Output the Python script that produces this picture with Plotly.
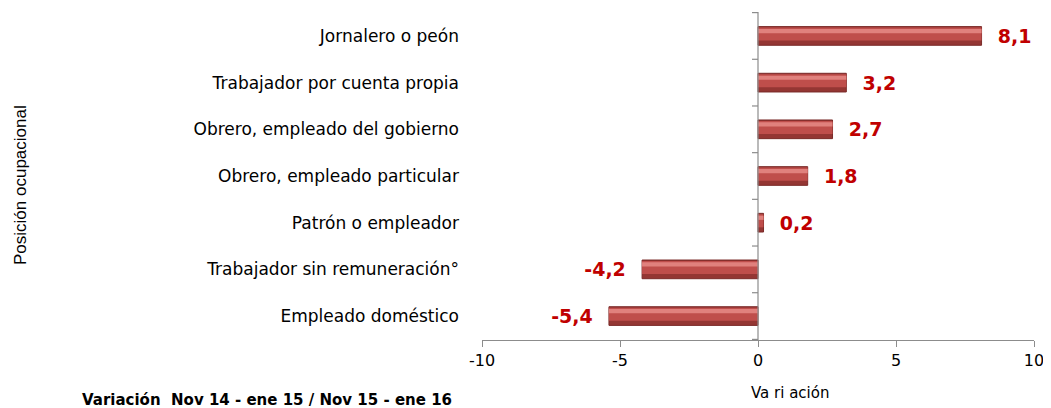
import plotly.graph_objects as go

categories = ["Jornalero o peón", "Trabajador por cuenta propia", "Obrero, empleado del gobierno",
              "Obrero, empleado particular", "Patrón o empleador", "Trabajador sin remuneración°",
              "Empleado doméstico"]
values = [8.1, 3.2, 2.7, 1.8, 0.2, -4.2, -5.4]
labels = ["8,1", "3,2", "2,7", "1,8", "0,2", "-4,2", "-5,4"]
x_ticks = [-10, -5, 0, 5, 10]

texts = [("  " + t) if v >= 0 else (t + "  ") for t, v in zip(labels, values)]

# page body has an 8px margin: figure occupies x 8..1051, y 8..408
W, H = 1043, 400
L, R, T, B = 474, 17, 4, 68
PW, PH = W - L - R, H - T - B

fig = go.Figure()
# base (dark) bar
fig.add_trace(go.Bar(
    y=categories, x=values, orientation="h", width=0.40,
    marker=dict(color="#943633", line=dict(color="#7A2A28", width=1)),
    text=texts, textposition="outside", cliponaxis=False, constraintext="none",
    textfont=dict(family="DejaVu Sans", size=19, color="#C00000", weight="bold"),
    hoverinfo="skip", showlegend=False))
# main tone
fig.add_trace(go.Bar(
    y=categories, x=values, orientation="h", width=0.28, offset=-0.10,
    marker=dict(color="#BF4E4B", line=dict(width=0)),
    hoverinfo="skip", showlegend=False))
# highlight
fig.add_trace(go.Bar(
    y=categories, x=values, orientation="h", width=0.09, offset=0.06,
    marker=dict(color="#E0817D", line=dict(width=0)),
    hoverinfo="skip", showlegend=False))

shapes = [dict(type="line", xref="x", yref="paper", x0=0, x1=0, y0=0, y1=1,
               line=dict(color="#8C8C8C", width=1.2))]
for i in range(len(categories) + 1):
    shapes.append(dict(type="line", xref="x", yref="y", xsizemode="pixel", xanchor=0,
                       x0=-6, x1=0, y0=i - 0.5, y1=i - 0.5,
                       line=dict(color="#8C8C8C", width=1.2)))

fig.update_layout(
    width=W, height=H,
    margin=dict(l=L, r=R, t=T, b=B),
    barmode="overlay",
    plot_bgcolor="white", paper_bgcolor="white",
    font=dict(family="DejaVu Sans", size=17, color="#000000"),
    shapes=shapes,
    xaxis=dict(range=[-10, 10], tickvals=x_ticks, ticktext=[str(t) for t in x_ticks],
               showgrid=False, zeroline=False, showline=True, linecolor="#8C8C8C", linewidth=1.2,
               ticks="outside", ticklen=6, tickcolor="#8C8C8C",
               tickfont=dict(size=16)),
    yaxis=dict(categoryorder="array", categoryarray=categories[::-1],
               showgrid=False, zeroline=False, showline=False, ticks="",
               ticklabelstandoff=22, tickfont=dict(size=17)),
    annotations=[
        dict(text="Va ri ación", xref="paper", yref="paper",
             x=(790 - 8 - L) / PW, y=(H - B - (393 - 8)) / PH, xanchor="center", yanchor="middle",
             showarrow=False, font=dict(family="DejaVu Sans", size=15, color="#000000")),
        dict(text="Posición ocupacional", textangle=-90, xref="paper", yref="paper",
             x=(20 - 8 - L) / PW, y=(H - B - (185 - 8)) / PH, xanchor="center", yanchor="middle",
             showarrow=False,
             font=dict(family="Liberation Sans", size=17, color="#000000")),
        dict(text="<b>Variación  Nov 14 - ene 15 / Nov 15 - ene 16</b>", xref="paper", yref="paper",
             x=(80 - 8 - L) / PW, y=(H - B - (400 - 8)) / PH, xanchor="left", yanchor="middle",
             showarrow=False,
             font=dict(family="DejaVu Sans", size=15, color="#000000")),
    ],
)

fig.write_html("out.html")
